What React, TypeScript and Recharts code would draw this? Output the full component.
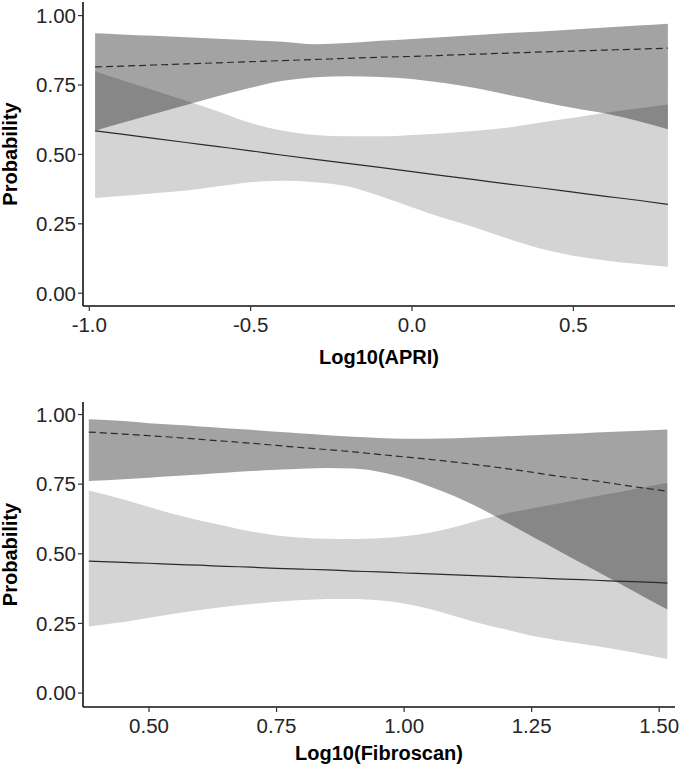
import React from 'react';
import { ComposedChart, Area, Line, XAxis, YAxis } from 'recharts';

// top panel: Log10(APRI)
const APRI_X = [-0.982, -0.9, -0.8, -0.7, -0.6, -0.5, -0.4, -0.3, -0.2, -0.1, 0, 0.1, 0.2, 0.3, 0.4, 0.5, 0.6, 0.7, 0.793];
const APRI_LIGHT_LO = [0.343, 0.35, 0.36, 0.37, 0.385, 0.4, 0.405, 0.4, 0.385, 0.35, 0.31, 0.27, 0.235, 0.195, 0.16, 0.135, 0.118, 0.105, 0.095];
const APRI_LIGHT_HI = [0.8, 0.768, 0.731, 0.693, 0.655, 0.613, 0.585, 0.57, 0.565, 0.565, 0.57, 0.576, 0.585, 0.597, 0.615, 0.632, 0.65, 0.665, 0.68];
const APRI_DARK_LO = [0.585, 0.613, 0.646, 0.678, 0.71, 0.74, 0.765, 0.778, 0.782, 0.779, 0.772, 0.757, 0.738, 0.714, 0.69, 0.667, 0.647, 0.62, 0.591];
const APRI_DARK_HI = [0.936, 0.932, 0.927, 0.922, 0.917, 0.911, 0.906, 0.897, 0.901, 0.909, 0.916, 0.923, 0.93, 0.937, 0.943, 0.95, 0.957, 0.964, 0.971];
const APRI_SOLID = [0.585, 0.573, 0.558, 0.543, 0.528, 0.513, 0.497, 0.482, 0.468, 0.453, 0.438, 0.423, 0.408, 0.393, 0.379, 0.364, 0.349, 0.335, 0.32];
const APRI_DASHED = [0.815, 0.818, 0.822, 0.826, 0.83, 0.834, 0.838, 0.842, 0.846, 0.85, 0.853, 0.857, 0.861, 0.865, 0.869, 0.872, 0.876, 0.879, 0.883];
const APRI_TICKS = [-1, -0.5, 0, 0.5];

// bottom panel: Log10(Fibroscan)
const FIB_X = [0.382, 0.45, 0.5, 0.55, 0.6, 0.65, 0.7, 0.75, 0.8, 0.85, 0.9, 0.95, 1.0, 1.05, 1.1, 1.15, 1.2, 1.25, 1.3, 1.35, 1.4, 1.45, 1.516];
const FIB_LIGHT_LO = [0.239, 0.255, 0.27, 0.285, 0.298, 0.31, 0.32, 0.328, 0.334, 0.338, 0.338, 0.333, 0.322, 0.302, 0.276, 0.25, 0.228, 0.206, 0.19, 0.176, 0.162, 0.146, 0.122];
const FIB_LIGHT_HI = [0.727, 0.695, 0.668, 0.642, 0.62, 0.6, 0.58, 0.566, 0.558, 0.554, 0.553, 0.556, 0.563, 0.576, 0.596, 0.622, 0.645, 0.663, 0.68, 0.698, 0.715, 0.732, 0.755];
const FIB_DARK_LO = [0.761, 0.768, 0.773, 0.779, 0.785, 0.791, 0.797, 0.802, 0.805, 0.808, 0.806, 0.795, 0.773, 0.742, 0.706, 0.663, 0.613, 0.563, 0.514, 0.464, 0.415, 0.366, 0.3];
const FIB_DARK_HI = [0.983, 0.977, 0.969, 0.963, 0.957, 0.951, 0.945, 0.938, 0.932, 0.926, 0.92, 0.916, 0.913, 0.913, 0.915, 0.918, 0.922, 0.926, 0.929, 0.933, 0.937, 0.941, 0.946];
const FIB_SOLID = [0.474, 0.469, 0.466, 0.462, 0.459, 0.455, 0.452, 0.448, 0.445, 0.442, 0.438, 0.435, 0.431, 0.428, 0.424, 0.421, 0.417, 0.414, 0.41, 0.407, 0.403, 0.4, 0.395];
const FIB_DASHED = [0.937, 0.93, 0.924, 0.918, 0.911, 0.904, 0.897, 0.889, 0.881, 0.874, 0.866, 0.857, 0.848, 0.839, 0.829, 0.818, 0.806, 0.793, 0.779, 0.768, 0.755, 0.741, 0.725];
const FIB_TICKS = [0.5, 0.75, 1.0, 1.25, 1.5];

const PROB_TICKS = [0, 0.25, 0.5, 0.75, 1];

const FONT = '"Liberation Sans", Arial, Helvetica, sans-serif';

function buildRows(xs: number[], lLo: number[], lHi: number[], dLo: number[], dHi: number[], solid: number[], dashed: number[]) {
  return xs.map((x, i) => ({
    x,
    light: [lLo[i], lHi[i]],
    dark: [dLo[i], dHi[i]],
    solid: solid[i],
    dashed: dashed[i],
  }));
}

const apriRows = buildRows(APRI_X, APRI_LIGHT_LO, APRI_LIGHT_HI, APRI_DARK_LO, APRI_DARK_HI, APRI_SOLID, APRI_DASHED);
const fibRows = buildRows(FIB_X, FIB_LIGHT_LO, FIB_LIGHT_HI, FIB_DARK_LO, FIB_DARK_HI, FIB_SOLID, FIB_DASHED);

type PanelProps = {
  rows: any[];
  height: number;
  top: number;
  xAxisHeight: number;
  xDomain: [number, number];
  yDomain: [number, number];
  xTicks: number[];
  digits: number;
  title: string;
  titleDy: number;
};

const Panel = ({ rows, height, top, xAxisHeight, xDomain, yDomain, xTicks, digits, title, titleDy }: PanelProps) => (
  <ComposedChart width={680} height={height} data={rows} margin={{ top, right: 5, bottom: 0, left: 0 }}>
    <XAxis
      dataKey="x"
      type="number"
      domain={xDomain}
      allowDataOverflow
      ticks={xTicks}
      interval={0}
      tickFormatter={(v: number) => v.toFixed(digits)}
      height={xAxisHeight}
      tickSize={5}
      tickMargin={6}
      axisLine={{ stroke: '#111', strokeWidth: 1.6 }}
      tickLine={{ stroke: '#333', strokeWidth: 1.2 }}
      tick={{ fill: '#262626', fontSize: 20.5, fontFamily: FONT }}
      label={{ value: title, position: 'center', dy: titleDy, fill: '#000', fontSize: 20, fontWeight: 'bold', fontFamily: FONT }}
    />
    <YAxis
      type="number"
      domain={yDomain}
      allowDataOverflow
      ticks={PROB_TICKS}
      interval={0}
      tickFormatter={(v: number) => v.toFixed(2)}
      width={83}
      tickSize={5}
      tickMargin={2}
      axisLine={{ stroke: '#111', strokeWidth: 1.6 }}
      tickLine={{ stroke: '#333', strokeWidth: 1.2 }}
      tick={{ fill: '#262626', fontSize: 20.5, fontFamily: FONT }}
      label={{ value: 'Probability', angle: -90, position: 'center', dx: -32, fill: '#000', fontSize: 20, fontWeight: 'bold', fontFamily: FONT }}
    />
    <Area dataKey="light" type="monotone" fill="#d4d4d4" fillOpacity={1} stroke="none" isAnimationActive={false} activeDot={false} />
    <Area dataKey="dark" type="monotone" fill="#000" fillOpacity={0.36} stroke="none" isAnimationActive={false} activeDot={false} />
    <Line dataKey="solid" type="monotone" stroke="#2b2b2b" strokeWidth={1.2} dot={false} isAnimationActive={false} />
    <Line dataKey="dashed" type="monotone" stroke="#2b2b2b" strokeWidth={1.2} strokeDasharray="7 4" dot={false} isAnimationActive={false} />
  </ComposedChart>
);

export default function App() {
  return (
    <div style={{ position: 'absolute', left: 0, top: 0, width: 680, height: 771, background: '#fff' }}>
      <Panel
        rows={apriRows}
        height={385}
        top={2}
        xAxisHeight={79}
        xDomain={[-1.0195, 0.815]}
        yDomain={[-0.046, 1.049]}
        xTicks={APRI_TICKS}
        digits={1}
        title="Log10(APRI)"
        titleDy={11}
      />
      <Panel
        rows={fibRows}
        height={386}
        top={17}
        xAxisHeight={64}
        xDomain={[0.3706, 1.531]}
        yDomain={[-0.05, 1.045]}
        xTicks={FIB_TICKS}
        digits={2}
        title="Log10(Fibroscan)"
        titleDy={14}
      />
    </div>
  );
}
